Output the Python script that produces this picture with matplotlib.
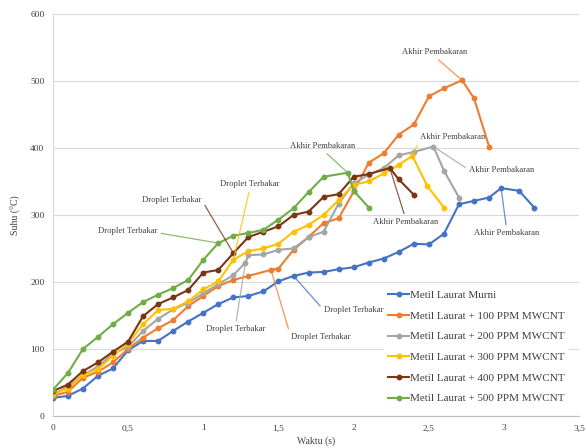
import matplotlib
matplotlib.use("Agg")
import matplotlib.pyplot as plt

# ---- data ----
labels = ["Metil Laurat Murni",
          "Metil Laurat + 100 PPM MWCNT",
          "Metil Laurat + 200 PPM MWCNT",
          "Metil Laurat + 300 PPM MWCNT",
          "Metil Laurat + 400 PPM MWCNT",
          "Metil Laurat + 500 PPM MWCNT"]
colors = ["#4472C4", "#ED7D31", "#A5A5A5", "#FFC000", "#7B3513", "#70AD47"]

t_murni = [0, 0.1, 0.2, 0.3, 0.4, 0.5, 0.6, 0.7, 0.8, 0.9, 1.0, 1.1, 1.2, 1.3, 1.4, 1.5, 1.6,
           1.7, 1.8, 1.9, 2.0, 2.1, 2.2, 2.3, 2.4, 2.5, 2.6, 2.7, 2.8, 2.9, 2.98, 3.1, 3.2]
y_murni = [27, 30, 41, 60, 71, 98, 112, 112, 127, 141, 154, 167, 177, 179, 186, 201, 209,
           214, 215, 219, 222, 229, 235, 245, 257, 256, 272, 316, 321, 326, 340, 336, 311]

t_100 = [0, 0.1, 0.2, 0.3, 0.4, 0.5, 0.6, 0.7, 0.8, 0.9, 1.0, 1.1, 1.2, 1.3, 1.45, 1.5, 1.6,
         1.7, 1.8, 1.9, 2.0, 2.1, 2.2, 2.3, 2.4, 2.5, 2.6, 2.72, 2.8, 2.9]
y_100 = [30, 36, 57, 66, 80, 100, 117, 131, 143, 164, 179, 194, 203, 209, 218, 220, 248,
         267, 288, 295, 335, 378, 392, 420, 435, 477, 489, 501, 474, 402]

t_200 = [0, 0.1, 0.2, 0.3, 0.4, 0.5, 0.6, 0.7, 0.8, 0.9, 1.0, 1.1, 1.2, 1.28, 1.3, 1.4, 1.5, 1.6,
         1.7, 1.8, 1.9, 2.0, 2.1, 2.2, 2.3, 2.4, 2.53, 2.6, 2.7]
y_200 = [31, 44, 61, 74, 93, 103, 127, 145, 159, 169, 183, 197, 210, 229, 240, 241, 248, 250,
         267, 275, 317, 347, 360, 370, 389, 394, 402, 366, 326]

t_300 = [0, 0.1, 0.2, 0.3, 0.4, 0.5, 0.6, 0.7, 0.8, 0.9, 1.0, 1.1, 1.2, 1.3, 1.4, 1.5, 1.6,
         1.7, 1.8, 1.9, 2.0, 2.1, 2.2, 2.3, 2.39, 2.49, 2.6]
y_300 = [33, 41, 61, 70, 90, 108, 137, 158, 160, 171, 189, 201, 233, 246, 250, 257, 275,
         285, 300, 322, 345, 350, 362, 375, 388, 343, 311]

t_400 = [0, 0.1, 0.2, 0.3, 0.4, 0.5, 0.6, 0.7, 0.8, 0.9, 1.0, 1.1, 1.2, 1.3, 1.4, 1.5, 1.6,
         1.7, 1.8, 1.9, 2.0, 2.1, 2.24, 2.3, 2.4]
y_400 = [37, 47, 67, 80, 96, 111, 149, 167, 177, 188, 214, 218, 243, 267, 275, 283, 300,
         305, 327, 331, 357, 361, 370, 353, 330]

t_500 = [0, 0.1, 0.2, 0.3, 0.4, 0.5, 0.6, 0.7, 0.8, 0.9, 1.0, 1.1, 1.2, 1.3, 1.4, 1.5, 1.6,
         1.7, 1.8, 1.96, 2.0, 2.1]
y_500 = [39, 64, 100, 118, 137, 154, 170, 181, 191, 203, 233, 258, 269, 273, 278, 293, 310,
         334, 357, 363, 336, 311]

times = [t_murni, t_100, t_200, t_300, t_400, t_500]
temps = [y_murni, y_100, y_200, y_300, y_400, y_500]

x_ticks = [0, 0.5, 1, 1.5, 2, 2.5, 3, 3.5]
x_ticklabels = ["0", "0,5", "1", "1,5", "2", "2,5", "3", "3,5"]
y_ticks = [0, 100, 200, 300, 400, 500, 600]

# annotations: (series index, point index, text, text position, line anchor on text)
droplet = "Droplet Terbakar"
akhir = "Akhir Pembakaran"
annots = [
    (5, 11, droplet, (0.495, 276), (1.0, 0.3)),
    (4, 12, droplet, (0.79, 323), (1.0, 0.5)),
    (3, 12, droplet, (1.31, 346), (0.5, 0.0)),
    (2, 13, droplet, (1.215, 130), (0.5, 1.0)),
    (1, 14, droplet, (1.78, 118), (0.0, 0.5)),
    (0, 16, droplet, (1.999, 158), (0.0, 0.5)),
    (5, 19, akhir, (1.795, 403), (0.5, 0.0)),
    (1, 27, akhir, (2.535, 543), (0.5, 0.0)),
    (3, 24, akhir, (2.655, 416), (0.0, 0.2)),
    (2, 26, akhir, (2.985, 367), (0.0, 0.5)),
    (4, 22, akhir, (2.343, 290), (0.5, 1.0)),
    (0, 30, akhir, (3.016, 273), (0.5, 1.0)),
]

serif = ["Liberation Serif", "DejaVu Serif"]
txtcol = "#404040"

fig = plt.figure(figsize=(5.87, 4.48), dpi=100)
ax = fig.add_axes([0.090, 0.0714, 0.897, 0.8976])

for t, y, c, lab in zip(times, temps, colors, labels):
    ax.plot(t, y, color=c, lw=1.5, marker="o", ms=3.2, label=lab, zorder=3)

for si, pi, txt, pos, rp in annots:
    c = colors[si]
    ax.annotate(txt, xy=(times[si][pi], temps[si][pi]), xytext=pos,
                textcoords="data", ha="center", va="center",
                fontsize=6.2, family=serif, color=txtcol,
                arrowprops=dict(arrowstyle="-", color=c, lw=0.9, alpha=0.8,
                                relpos=rp, shrinkA=1, shrinkB=0),
                zorder=4)

ax.set_xlim(0, 3.5)
ax.set_ylim(0, 600)
ax.set_xticks(x_ticks)
ax.set_xticklabels(x_ticklabels)
ax.set_yticks(y_ticks)
ax.tick_params(length=0, labelsize=6.8, labelcolor=txtcol, pad=6)
for lab in ax.get_xticklabels() + ax.get_yticklabels():
    lab.set_family(serif)
ax.grid(axis="y", color="#D9D9D9", lw=0.8)
ax.set_axisbelow(True)
for s in ["top", "right"]:
    ax.spines[s].set_visible(False)
ax.spines["left"].set_color("#D9D9D9")
ax.spines["bottom"].set_color("#BFBFBF")

ax.set_xlabel("Waktu (s)", fontsize=7.0, family=serif, color=txtcol, labelpad=3)
ax.set_ylabel("Suhu (°C)", fontsize=7.0, family=serif, color=txtcol, labelpad=7)

leg = ax.legend(loc="lower left", bbox_to_anchor=(0.622, 0.012),
                prop={"family": serif, "size": 8.0}, frameon=True,
                facecolor="white", edgecolor="none", framealpha=1,
                handlelength=1.9, handletextpad=0.1, labelspacing=0.98,
                borderpad=0.4, borderaxespad=0.3, markerscale=1.0)
for txt in leg.get_texts():
    txt.set_color(txtcol)
leg.set_zorder(5)

fig.savefig("out.png", dpi=100)
